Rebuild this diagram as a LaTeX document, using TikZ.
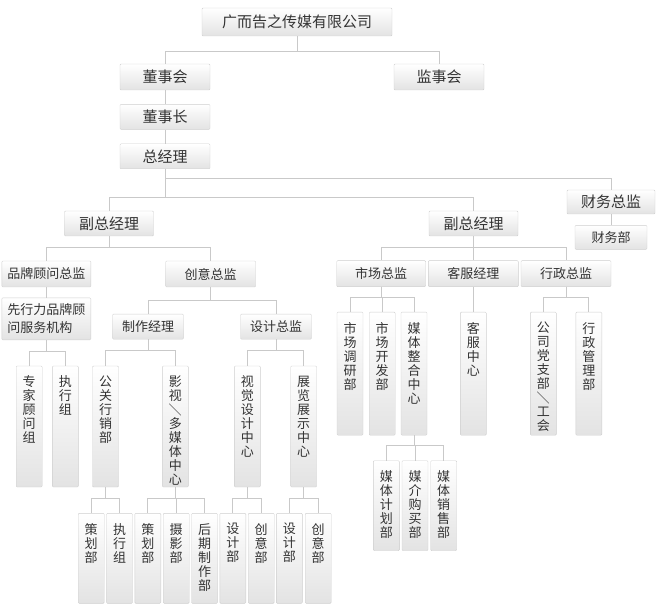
\documentclass[tikz,border=0pt]{standalone}
\usepackage{fontspec}
\setmainfont{Noto Sans CJK SC}
\usetikzlibrary{positioning}

% vertical text in the narrow boxes
\newcommand{\vtxt}[2]{\parbox[c][#1][t]{16pt}{\centering #2}}
\newcommand{\vslash}{\rotatebox[origin=c]{90}{／}}

\begin{document}
\begin{tikzpicture}[x=1pt, y=-1pt,
    node distance = 0mm,
every node/.style = {inner sep=2pt},
       box/.style = {draw=black!19, rounded corners=1pt,
                     top color=white, bottom color=black!11,
                     text=black!80, font=\fontsize{13}{14}\selectfont,
                     minimum width=90pt, minimum height=26pt},
    bigbox/.style = {box, font=\fontsize{15}{16}\selectfont},
    colbox/.style = {box, inner sep=0pt, minimum width=26pt, minimum height=#1},
      link/.style = {draw=black!21, line width=1pt}]
\useasboundingbox (0,0) rectangle (658,609);

% top levels
\node[bigbox, minimum width=190pt, minimum height=28pt]
                                   (gs)    at (297,22)    {广而告之传媒有限公司};
\node[bigbox]                      (dsh)   at (165,77)    {董事会};
\node[bigbox]                      (jsh)   at (439,77)    {监事会};
\node[bigbox, minimum height=25pt,
      below=14pt of dsh]           (dsz)                  {董事长};
\node[bigbox, minimum height=25pt,
      below=14pt of dsz]           (zjl)                  {总经理};
\node[bigbox, minimum width=88pt, minimum height=24pt]
                                   (cwzj)  at (611,202)   {财务总监};
\node[box, minimum width=72pt, minimum height=24pt,
      below=11pt of cwzj]          (cwb)                  {财务部};
\node[bigbox, minimum width=89pt, minimum height=25pt]
                                   (fzjl1) at (109,223.5) {副总经理};
\node[bigbox, minimum width=89pt, minimum height=25pt]
                                   (fzjl2) at (473.5,223.5) {副总经理};

% left branch
\node[box, minimum width=89pt]     (ppzj)  at (46.3,274)  {品牌顾问总监};
\node[box]                         (cyzj)  at (210.7,274) {创意总监};
\node[box, minimum width=89pt, minimum height=42pt, align=left,
      font=\fontsize{13}{18}\selectfont,
      below=10.5pt of ppzj]        (xxl)                  {先行力品牌顾\\问服务机构};
\node[box, minimum width=71pt, minimum height=25pt]
                                   (zzjl)  at (148,326.7) {制作经理};
\node[box, minimum width=71pt, minimum height=25pt]
                                   (sjzj)  at (276,326.7) {设计总监};

\node[colbox=121pt] (zjgw) at (29.2,426.5)  {\vtxt{101pt}{专\\家\\顾\\问\\组}};
\node[colbox=121pt] (zxz)  at (65.3,426.5)  {\vtxt{101pt}{执\\行\\组}};
\node[colbox=121pt] (ggxx) at (105.5,426.5) {\vtxt{101pt}{公\\关\\行\\销\\部}};
\node[colbox=121pt] (ysmt) at (175.3,426.5) {\vtxt{101pt}{影\\视\\\vslash\\多\\媒\\体\\中\\心}};
\node[colbox=121pt] (sjsj) at (247.3,426.5) {\vtxt{101pt}{视\\觉\\设\\计\\中\\心}};
\node[colbox=121pt] (zlzs) at (303.7,426.5) {\vtxt{101pt}{展\\览\\展\\示\\中\\心}};

\node[colbox=90pt] (chb1) at (91.2,558.3)  {\vtxt{70pt}{策\\划\\部}};
\node[colbox=90pt] (zxz2) at (119.5,558.3) {\vtxt{70pt}{执\\行\\组}};
\node[colbox=90pt] (chb2) at (147.8,558.3) {\vtxt{70pt}{策\\划\\部}};
\node[colbox=90pt] (syb)  at (176.2,558.3) {\vtxt{70pt}{摄\\影\\部}};
\node[colbox=90pt] (hqzz) at (204.5,558.3) {\vtxt{70pt}{后\\期\\制\\作\\部}};
\node[colbox=90pt] (sjb1) at (232.8,558.3) {\vtxt{70pt}{设\\计\\部}};
\node[colbox=90pt] (cyb1) at (261.2,558.3) {\vtxt{70pt}{创\\意\\部}};
\node[colbox=90pt] (sjb2) at (289.3,558.3) {\vtxt{70pt}{设\\计\\部}};
\node[colbox=90pt] (cyb2) at (318.2,558.3) {\vtxt{70pt}{创\\意\\部}};

% right branch
\node[box, minimum width=89pt]     (sczj)  at (381.2,273.7) {市场总监};
\node[box]                         (kfjl)  at (473.3,273.7) {客服经理};
\node[box]                         (xzzj)  at (566,273.7)   {行政总监};

\node[colbox=123pt] (scdy) at (350,373.7)   {\vtxt{103pt}{市\\场\\调\\研\\部}};
\node[colbox=123pt] (sckf) at (382.2,373.7) {\vtxt{103pt}{市\\场\\开\\发\\部}};
\node[colbox=123pt] (mtzh) at (414,373.7)   {\vtxt{103pt}{媒\\体\\整\\合\\中\\心}};
\node[colbox=123pt] (kfzx) at (473.3,373.7) {\vtxt{103pt}{客\\服\\中\\心}};
\node[colbox=123pt] (dzb)  at (543.3,373.7) {\vtxt{103pt}{公\\司\\党\\支\\部\\\vslash\\工\\会}};
\node[colbox=123pt] (xzgl) at (588.8,373.7) {\vtxt{103pt}{行\\政\\管\\理\\部}};

\node[colbox=90pt] (mtjh) at (386.3,505.7) {\vtxt{70pt}{媒\\体\\计\\划\\部}};
\node[colbox=90pt] (mjgm) at (415,505.7)   {\vtxt{70pt}{媒\\介\\购\\买\\部}};
\node[colbox=90pt] (mtxs) at (443.7,505.7) {\vtxt{70pt}{媒\\体\\销\\售\\部}};

% connectors
\draw[link] (gs.south) -- ++(0,15) -| (dsh.north);
\draw[link] (gs.south) -- ++(0,15) -| (jsh.north);
\draw[link] (dsh) -- (dsz);
\draw[link] (dsz) -- (zjl);
\draw[link] (zjl.south) -- ++(0,10) -| (cwzj.north);
\draw[link] (zjl.south) -- ++(0,29) -| (fzjl1.north);
\draw[link] (zjl.south) -- ++(0,29) -| (fzjl2.north);
\draw[link] (cwzj) -- (cwb);

\draw[link] (fzjl1.south) -- ++(0,11.3) -| (ppzj.north);
\draw[link] (fzjl1.south) -- ++(0,11.3) -| (cyzj.north);
\draw[link] (ppzj) -- (xxl);
\draw[link] (xxl.south) -- ++(0,11.4) -| (zjgw.north);
\draw[link] (xxl.south) -- ++(0,11.4) -| (zxz.north);
\draw[link] (cyzj.south) -- ++(0,13) -| (zzjl.north);
\draw[link] (cyzj.south) -- ++(0,13) -| (sjzj.north);
\draw[link] (zzjl.south) -- ++(0,11.5) -| (ggxx.north);
\draw[link] (zzjl.south) -- ++(0,11.5) -| (ysmt.north);
\draw[link] (sjzj.south) -- ++(0,11.5) -| (sjsj.north);
\draw[link] (sjzj.south) -- ++(0,11.5) -| (zlzs.north);
\draw[link] (ggxx.south) -- ++(0,11.3) -| (chb1.north);
\draw[link] (ggxx.south) -- ++(0,11.3) -| (zxz2.north);
\draw[link] (ysmt.south) -- ++(0,11.3) -| (chb2.north);
\draw[link] (ysmt.south) -- ++(0,11.3) -| (syb.north);
\draw[link] (ysmt.south) -- ++(0,11.3) -| (hqzz.north);
\draw[link] (sjsj.south) -- ++(0,11.3) -| (sjb1.north);
\draw[link] (sjsj.south) -- ++(0,11.3) -| (cyb1.north);
\draw[link] (zlzs.south) -- ++(0,11.3) -| (sjb2.north);
\draw[link] (zlzs.south) -- ++(0,11.3) -| (cyb2.north);

\draw[link] (fzjl2.south) -- ++(0,11.3) -| (sczj.north);
\draw[link] (fzjl2.south) -- ++(0,11.3) -| (kfjl.north);
\draw[link] (fzjl2.south) -- ++(0,11.3) -| (xzzj.north);
\draw[link] (sczj.south) -- ++(0,10.6) -| (scdy.north);
\draw[link] (sczj.south) -- ++(0,10.6) -| (sckf.north);
\draw[link] (sczj.south) -- ++(0,10.6) -| (mtzh.north);
\draw[link] (kfjl) -- (kfzx);
\draw[link] (xzzj.south) -- ++(0,10.6) -| (dzb.north);
\draw[link] (xzzj.south) -- ++(0,10.6) -| (xzgl.north);
\draw[link] (mtzh.south) -- ++(0,10) -| (mtjh.north);
\draw[link] (mtzh.south) -- ++(0,10) -| (mjgm.north);
\draw[link] (mtzh.south) -- ++(0,10) -| (mtxs.north);
\end{tikzpicture}
\end{document}
